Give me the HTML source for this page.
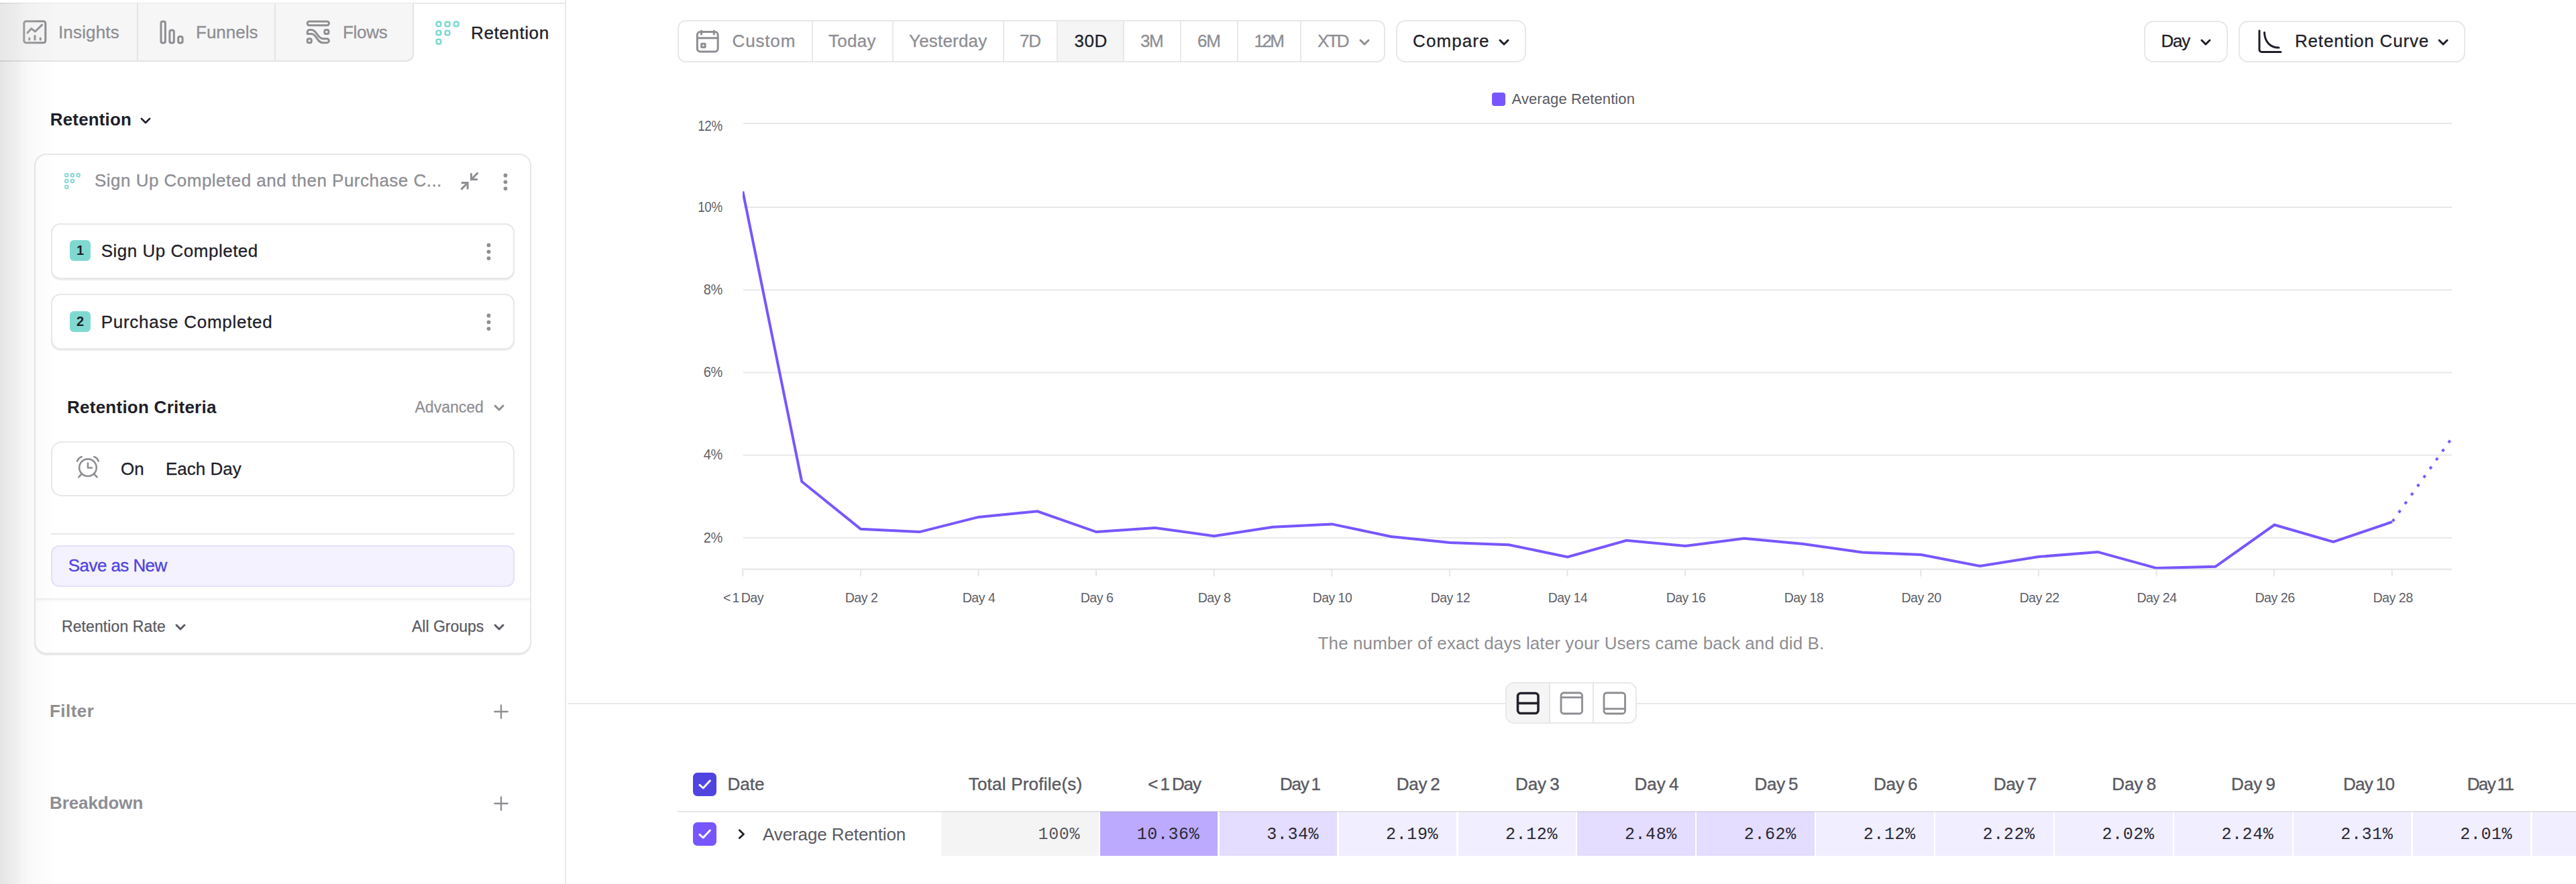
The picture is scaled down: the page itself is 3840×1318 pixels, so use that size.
<!DOCTYPE html>
<html><head><meta charset="utf-8">
<style>
*{box-sizing:border-box;margin:0;padding:0}
html,body{width:3840px;height:1318px;overflow:hidden;background:#fff}
body{font-family:"Liberation Sans",sans-serif;color:#1b1b25;position:relative}
.abs{position:absolute}
.t{position:absolute;white-space:nowrap;line-height:1}
.g{color:#8e8e93}
.d{color:#1f1f29}
.m{color:#5a5a62}
.b{font-weight:bold}
svg{position:absolute;overflow:visible}
.mono{font-family:"Liberation Mono",monospace}
</style></head><body>

<!-- ===== SIDEBAR ===== -->
<div class="abs" style="left:0;top:0;width:844.400px;height:1318px;border-right:2px solid #e8e8e8;background:#fff"></div>
<!-- top line -->
<div class="abs" style="left:0;top:4px;width:843px;height:2px;background:#e9e9e9"></div>
<!-- tabs -->
<div class="abs" style="left:0;top:5px;width:617px;height:87px;background:#f6f6f6;border-bottom:2px solid #e4e4e4;border-right:2px solid #e4e4e4;border-bottom-right-radius:12px"></div>
<div class="abs" style="left:204px;top:5px;width:2px;height:86px;background:#e4e4e4"></div>
<div class="abs" style="left:409px;top:5px;width:2px;height:86px;background:#e4e4e4"></div>

<!--SB-->
<!-- tab icons -->
<svg style="left:34px;top:29.800px" width="36" height="36" viewBox="0 0 36 36" fill="none" stroke="#8e8e93" stroke-width="3" stroke-linecap="round" stroke-linejoin="round">
<rect x="1.8" y="1.8" width="32" height="32" rx="3"/>
<polyline points="7,19 12.8,12.6 18.4,17 28.6,7.2"/>
<line x1="9.8" y1="27" x2="9.8" y2="29"/><line x1="18" y1="23.5" x2="18" y2="29"/><line x1="26.2" y1="27" x2="26.2" y2="29"/>
</svg>
<div class="t g" style="left:87px;top:34.500px;font-size:26px;letter-spacing:.15px;-webkit-text-stroke:.3px #8e8e93">Insights</div>

<svg style="left:238px;top:30px" width="37" height="36" viewBox="0 0 37 36" fill="none" stroke="#8e8e93" stroke-width="3" stroke-linejoin="round">
<rect x="2" y="1.9" width="6.4" height="32" rx="2.5"/>
<rect x="14.9" y="14.9" width="6.4" height="19" rx="2.5"/>
<rect x="27.7" y="24.5" width="6.4" height="9.4" rx="2.5"/>
</svg>
<div class="t g" style="left:292px;top:34.500px;font-size:26px;letter-spacing:0px;-webkit-text-stroke:.3px #8e8e93">Funnels</div>

<svg style="left:456.300px;top:30.400px" width="36.600" height="36.200" viewBox="0 0 36 36" fill="none" stroke="#8e8e93" stroke-width="3" stroke-linejoin="round" stroke-linecap="round">
<rect x="2" y="2" width="32" height="5.600" rx="2.600"/>
<rect x="27.5" y="14.5" width="6" height="6" rx="2"/>
<rect x="2" y="27.5" width="6" height="6" rx="2"/>
<path d="M2 20.5v-3a3 3 0 0 1 3-3h3c8 0 9 13 17 13h6a3 3 0 0 1 3 3v0a3 3 0 0 1-3 3h-6c-9 0-9-13-17-13h-6z" />
</svg>
<div class="t g" style="left:511px;top:34.500px;font-size:26px;letter-spacing:-.3px;-webkit-text-stroke:.3px #8e8e93">Flows</div>

<svg style="left:649px;top:31px" width="36" height="36" viewBox="0 0 36 36" fill="none" stroke="#80d9d1" stroke-width="2.6">
<rect x="1.6" y="1.6" width="6.6" height="6.6" rx="2.2"/><rect x="14.7" y="1.6" width="6.6" height="6.6" rx="2.2"/><rect x="27.8" y="1.6" width="6.6" height="6.6" rx="2.2"/>
<rect x="1.6" y="14.7" width="6.6" height="6.6" rx="2.2"/><rect x="14.7" y="14.7" width="6.6" height="6.6" rx="2.2"/>
<rect x="1.6" y="27.8" width="6.6" height="6.6" rx="2.2"/>
</svg>
<div class="t d" style="left:702px;top:35.500px;font-size:26px;letter-spacing:.6px;-webkit-text-stroke:.35px #1f1f29">Retention</div>

<!-- heading -->
<div class="t d b" style="left:74.800px;top:164.500px;font-size:26px;letter-spacing:.15px">Retention</div>
<svg style="left:209px;top:175px" width="16" height="10.300" viewBox="0 0 17 11" fill="none" stroke="#1f1f29" stroke-width="3" stroke-linecap="round" stroke-linejoin="round"><polyline points="2,2 8.5,8.5 15,2"/></svg>

<!-- big card -->
<div class="abs" style="left:51px;top:228.600px;width:741px;height:746.400px;border:2px solid #e8e8e8;border-radius:18px;box-shadow:0 1.500px 1px rgba(0,0,0,.085);background:#fff"></div>
<svg style="left:96px;top:258px" width="24" height="24" viewBox="0 0 36 36" fill="none" stroke="#80d9d1" stroke-width="3">
<rect x="1.6" y="1.6" width="6.6" height="6.6" rx="2.2"/><rect x="14.7" y="1.6" width="6.6" height="6.6" rx="2.2"/><rect x="27.8" y="1.6" width="6.6" height="6.6" rx="2.2"/>
<rect x="1.6" y="14.7" width="6.6" height="6.6" rx="2.2"/><rect x="14.7" y="14.7" width="6.6" height="6.6" rx="2.2"/>
<rect x="1.6" y="27.8" width="6.6" height="6.6" rx="2.2"/>
</svg>
<div class="t g" style="left:141px;top:256px;font-size:26px;letter-spacing:.48px;-webkit-text-stroke:.3px #8e8e93">Sign Up Completed and then Purchase C...</div>
<svg style="left:687px;top:257px" width="27" height="27" viewBox="0 0 27 27" fill="none" stroke="#8e8e93" stroke-width="3" stroke-linecap="round" stroke-linejoin="miter">
<path d="M24.700 1.300L15.400 10.600M15.400 2.200V10.600H23.800"/><path d="M1.300 24.600L10.100 15.500M1.800 15.500H10.100V24"/>
</svg>
<svg style="left:749.200px;top:257.600px" width="9" height="27" viewBox="0 0 9 27" fill="#8e8e93"><circle cx="4.5" cy="3.5" r="2.900"/><circle cx="4.500" cy="13.300" r="2.900"/><circle cx="4.5" cy="23.100" r="2.900"/></svg>

<!-- event 1 -->
<div class="abs" style="left:76px;top:332.500px;width:690.500px;height:83px;border:2px solid #e8e8e8;border-radius:14px;box-shadow:0 1.500px 1px rgba(0,0,0,.075);background:#fff"></div>
<div class="abs" style="left:104px;top:358px;width:31px;height:31px;border-radius:6px;background:#80d9d1"></div>
<div class="t d b" style="left:104px;top:363px;width:31px;text-align:center;font-size:20px">1</div>
<div class="t d" style="left:150.700px;top:361.400px;font-size:26px;letter-spacing:.51px;-webkit-text-stroke:.3px #1f1f29">Sign Up Completed</div>
<svg style="left:723.500px;top:361.500px" width="9" height="27" viewBox="0 0 9 27" fill="#8e8e93"><circle cx="4.5" cy="3.5" r="2.900"/><circle cx="4.500" cy="13.300" r="2.900"/><circle cx="4.5" cy="23.100" r="2.900"/></svg>
<!-- event 2 -->
<div class="abs" style="left:76px;top:437.800px;width:690.500px;height:83.400px;border:2px solid #e8e8e8;border-radius:14px;box-shadow:0 1.500px 1px rgba(0,0,0,.075);background:#fff"></div>
<div class="abs" style="left:104px;top:463.600px;width:31px;height:31px;border-radius:6px;background:#80d9d1"></div>
<div class="t d b" style="left:104px;top:468.600px;width:31px;text-align:center;font-size:20px">2</div>
<div class="t d" style="left:150.700px;top:467px;font-size:26px;letter-spacing:.72px;-webkit-text-stroke:.3px #1f1f29">Purchase Completed</div>
<svg style="left:723.500px;top:467px" width="9" height="27" viewBox="0 0 9 27" fill="#8e8e93"><circle cx="4.5" cy="3.5" r="2.900"/><circle cx="4.500" cy="13.300" r="2.900"/><circle cx="4.5" cy="23.100" r="2.900"/></svg>

<!-- criteria -->
<div class="t d b" style="left:100px;top:594px;font-size:26px;letter-spacing:.25px">Retention Criteria</div>
<div class="t g" style="left:618.500px;top:596.300px;font-size:23px;-webkit-text-stroke:.25px #8e8e93">Advanced</div>
<svg style="left:736px;top:603px" width="16" height="11" viewBox="0 0 16 11" fill="none" stroke="#8e8e93" stroke-width="3" stroke-linecap="round" stroke-linejoin="round"><polyline points="2,2 8,8 14,2"/></svg>
<div class="abs" style="left:76px;top:658px;width:691px;height:82px;border:2px solid #e8e8e8;border-radius:16px;background:#fff"></div>
<svg style="left:113px;top:679px" width="36" height="35" viewBox="0 0 36 35" fill="none" stroke="#8e8e93" stroke-width="2.6" stroke-linecap="round" stroke-linejoin="round">
<circle cx="18" cy="18.200" r="12.800"/><polyline points="18,11.500 18,18.500 24,18.500"/>
<path d="M2.200 8.500A11 11 0 0 1 8.700 2"/><path d="M33.800 8.500A11 11 0 0 0 27.300 2"/>
<line x1="8.500" y1="28" x2="4.300" y2="32.300"/><line x1="27.500" y1="28" x2="31.700" y2="32.300"/>
</svg>
<div class="t d" style="left:180px;top:686px;font-size:26px;-webkit-text-stroke:.3px #1f1f29">On</div>
<div class="t d" style="left:247px;top:686px;font-size:26px;-webkit-text-stroke:.3px #1f1f29">Each Day</div>

<div class="abs" style="left:76px;top:795px;width:691px;height:2px;background:#e8e8e8"></div>
<div class="abs" style="left:76px;top:813px;width:691px;height:62px;border:2px solid #e4e0fb;border-radius:12px;background:#f4f2fe"></div>
<div class="t" style="left:101.800px;top:830.200px;font-size:26px;color:#4f44e0;letter-spacing:-.57px;-webkit-text-stroke:.35px #4f44e0">Save as New</div>
<div class="abs" style="left:53px;top:892px;width:737px;height:2px;background:#efefef"></div>
<div class="abs" style="left:53px;top:894px;width:737px;height:3px;background:#fafafa"></div>
<div class="t m" style="left:92px;top:922.700px;font-size:23px;letter-spacing:.1px;-webkit-text-stroke:.25px #5a5a62">Retention Rate</div>
<svg style="left:261px;top:930px" width="16" height="11" viewBox="0 0 16 11" fill="none" stroke="#5a5a62" stroke-width="3" stroke-linecap="round" stroke-linejoin="round"><polyline points="2,2 8,8 14,2"/></svg>
<div class="t m" style="left:614px;top:922.700px;font-size:23px;-webkit-text-stroke:.25px #5a5a62">All Groups</div>
<svg style="left:736px;top:930px" width="16" height="11" viewBox="0 0 16 11" fill="none" stroke="#5a5a62" stroke-width="3" stroke-linecap="round" stroke-linejoin="round"><polyline points="2,2 8,8 14,2"/></svg>

<div class="t g b" style="left:74px;top:1047.300px;font-size:26px;letter-spacing:.45px">Filter</div>
<svg style="left:735.800px;top:1050px" width="22" height="22" viewBox="0 0 24 24" stroke="#8e8e93" stroke-width="2.6" stroke-linecap="round"><line x1="12" y1="1.5" x2="12" y2="22.5"/><line x1="1.5" y1="12" x2="22.500" y2="12"/></svg>
<div class="t g b" style="left:74px;top:1184.200px;font-size:26px;letter-spacing:-.1px">Breakdown</div>
<svg style="left:735.800px;top:1187px" width="22" height="22" viewBox="0 0 24 24" stroke="#8e8e93" stroke-width="2.6" stroke-linecap="round"><line x1="12" y1="1.5" x2="12" y2="22.5"/><line x1="1.5" y1="12" x2="22.500" y2="12"/></svg>
<div class="abs" style="left:0;top:0;width:90px;height:1318px;background:linear-gradient(to right,rgba(0,0,0,.106) 0,rgba(0,0,0,.086) 10px,rgba(0,0,0,.07) 20px,rgba(0,0,0,.062) 25px,rgba(0,0,0,.046) 30px,rgba(0,0,0,.027) 40px,rgba(0,0,0,.019) 50px,rgba(0,0,0,.012) 60px,rgba(0,0,0,.007) 70px,rgba(0,0,0,0) 85px)"></div>
<div class="abs" style="left:0;top:6px;width:70px;height:84px;background:linear-gradient(to right,rgba(255,255,255,.3) 0,rgba(255,255,255,.22) 25px,rgba(255,255,255,.12) 45px,rgba(255,255,255,0) 68px)"></div>
<div class="abs" style="left:0;top:0;width:70px;height:4px;background:#fff"></div>
<!--/SB-->
<!--MAIN-->
<div class="abs" style="left:1010px;top:30.400px;width:1055px;height:62.600px;border:2px solid #e8e8e8;border-radius:12px;background:#fff"></div>
<div class="abs" style="left:1577px;top:32px;width:98px;height:59px;background:#f5f5f5"></div>
<div class="abs" style="left:1209.6px;top:32px;width:2px;height:59px;background:#e9e9e9"></div>
<div class="abs" style="left:1329.5px;top:32px;width:2px;height:59px;background:#e9e9e9"></div>
<div class="abs" style="left:1494.6px;top:32px;width:2px;height:59px;background:#e9e9e9"></div>
<div class="abs" style="left:1574.6px;top:32px;width:2px;height:59px;background:#e9e9e9"></div>
<div class="abs" style="left:1674.0px;top:32px;width:2px;height:59px;background:#e9e9e9"></div>
<div class="abs" style="left:1758.8px;top:32px;width:2px;height:59px;background:#e9e9e9"></div>
<div class="abs" style="left:1843.7px;top:32px;width:2px;height:59px;background:#e9e9e9"></div>
<div class="abs" style="left:1937.6px;top:32px;width:2px;height:59px;background:#e9e9e9"></div>
<svg style="left:1037px;top:44px" width="36" height="36" viewBox="0 0 36 36" fill="none" stroke="#8e8e93" stroke-width="3" stroke-linecap="round" stroke-linejoin="round">
<rect x="2.35" y="3.4" width="30.800" height="29.600" rx="4.500"/><line x1="2.35" y1="12.800" x2="33.100" y2="12.800"/><line x1="8.500" y1="2" x2="8.500" y2="7"/><line x1="27.300" y1="2" x2="27.300" y2="7"/><rect x="8.700" y="21.300" width="5.400" height="5.200" rx=".3"/></svg>
<div class="t g" style="left:1091.5px;top:47.9px;font-size:26px;letter-spacing:.85px;-webkit-text-stroke:.3px #8e8e93;">Custom</div>
<div class="t g" style="left:1235.0px;top:47.9px;font-size:26px;letter-spacing:.3px;-webkit-text-stroke:.3px #8e8e93;">Today</div>
<div class="t g" style="left:1355.0px;top:47.9px;font-size:26px;letter-spacing:.2px;-webkit-text-stroke:.3px #8e8e93;">Yesterday</div>
<div class="t g" style="left:1520.0px;top:47.9px;font-size:26px;letter-spacing:-1.1px;-webkit-text-stroke:.3px #8e8e93;">7D</div>
<div class="t d" style="left:1601.5px;top:47.9px;font-size:26px;letter-spacing:.5px;-webkit-text-stroke:.3px #1f1f29">30D</div>
<div class="t g" style="left:1700.0px;top:47.9px;font-size:26px;letter-spacing:-1.5px;-webkit-text-stroke:.3px #8e8e93;">3M</div>
<div class="t g" style="left:1785.0px;top:47.9px;font-size:26px;letter-spacing:-1.2px;-webkit-text-stroke:.3px #8e8e93;">6M</div>
<div class="t g" style="left:1869.6px;top:47.9px;font-size:26px;letter-spacing:-2.6px;-webkit-text-stroke:.3px #8e8e93;">12M</div>
<div class="t g" style="left:1964.0px;top:47.9px;font-size:26px;letter-spacing:-2.2px;-webkit-text-stroke:.3px #8e8e93;">XTD</div>
<svg style="left:2025.5px;top:58px" width="16" height="11" viewBox="0 0 16 11" fill="none" stroke="#8e8e93" stroke-width="3" stroke-linecap="round" stroke-linejoin="round"><polyline points="2,2 8,8 14,2"/></svg>
<div class="abs" style="left:2080.500px;top:30.400px;width:194.500px;height:62.600px;border:2px solid #e8e8e8;border-radius:14px;background:#fff"></div>
<div class="t d" style="left:2106.0px;top:47.9px;font-size:26px;letter-spacing:1.1px;-webkit-text-stroke:.3px #1f1f29">Compare</div>
<svg style="left:2234px;top:58px" width="16" height="11" viewBox="0 0 16 11" fill="none" stroke="#1f1f29" stroke-width="3" stroke-linecap="round" stroke-linejoin="round"><polyline points="2,2 8,8 14,2"/></svg>
<div class="abs" style="left:3195.700px;top:30.500px;width:125.300px;height:62.500px;border:2px solid #e8e8e8;border-radius:14px;background:#fff"></div>
<div class="t d" style="left:3221.5px;top:47.9px;font-size:26px;letter-spacing:-1.2px;-webkit-text-stroke:.3px #1f1f29">Day</div>
<svg style="left:3280px;top:58px" width="16" height="11" viewBox="0 0 16 11" fill="none" stroke="#1f1f29" stroke-width="3" stroke-linecap="round" stroke-linejoin="round"><polyline points="2,2 8,8 14,2"/></svg>
<div class="abs" style="left:3336.700px;top:30.500px;width:338.300px;height:62.500px;border:2px solid #e8e8e8;border-radius:14px;background:#fff"></div>
<svg style="left:3366px;top:44px" width="36" height="36" viewBox="0 0 36 36" fill="none" stroke="#1f1f29" stroke-width="3" stroke-linecap="round" stroke-linejoin="round">
<path d="M2 1.800V30a3.500 3.500 0 0 0 3.500 3.500H34"/><path d="M9.500 4.500C10 17 17 27 31 27"/></svg>
<div class="t d" style="left:3421.0px;top:47.9px;font-size:26px;letter-spacing:.81px;-webkit-text-stroke:.3px #1f1f29">Retention Curve</div>
<svg style="left:3634px;top:58px" width="16" height="11" viewBox="0 0 16 11" fill="none" stroke="#1f1f29" stroke-width="3" stroke-linecap="round" stroke-linejoin="round"><polyline points="2,2 8,8 14,2"/></svg>
<div class="abs" style="left:2224px;top:138px;width:20px;height:20px;border-radius:4px;background:#7856ff"></div>
<div class="t m" style="left:2253.5px;top:136.7px;font-size:22px;letter-spacing:.1px">Average Retention</div>
<svg style="left:0;top:0" width="3840" height="1000" viewBox="0 0 3840 1000" fill="none">
<rect x="1107.800" y="183.0" width="2547.200" height="2" fill="#e8e8e8"/>
<rect x="1107.800" y="308.0" width="2547.200" height="2" fill="#e8e8e8"/>
<rect x="1107.800" y="431.2" width="2547.200" height="2" fill="#e8e8e8"/>
<rect x="1107.800" y="554.4" width="2547.200" height="2" fill="#e8e8e8"/>
<rect x="1107.800" y="677.6" width="2547.200" height="2" fill="#e8e8e8"/>
<rect x="1107.800" y="800.8" width="2547.200" height="2" fill="#e8e8e8"/>
<rect x="1106.300" y="847.600" width="2548.700" height="2.200" fill="#e6e6e6"/>
<rect x="1106.3" y="848" width="2" height="11.500" fill="#e6e6e6"/>
<rect x="1281.9" y="848" width="2" height="11.500" fill="#e6e6e6"/>
<rect x="1457.5" y="848" width="2" height="11.500" fill="#e6e6e6"/>
<rect x="1633.1" y="848" width="2" height="11.500" fill="#e6e6e6"/>
<rect x="1808.7" y="848" width="2" height="11.500" fill="#e6e6e6"/>
<rect x="1984.3" y="848" width="2" height="11.500" fill="#e6e6e6"/>
<rect x="2159.9" y="848" width="2" height="11.500" fill="#e6e6e6"/>
<rect x="2335.5" y="848" width="2" height="11.500" fill="#e6e6e6"/>
<rect x="2511.1" y="848" width="2" height="11.500" fill="#e6e6e6"/>
<rect x="2686.7" y="848" width="2" height="11.500" fill="#e6e6e6"/>
<rect x="2862.3" y="848" width="2" height="11.500" fill="#e6e6e6"/>
<rect x="3037.9" y="848" width="2" height="11.500" fill="#e6e6e6"/>
<rect x="3213.5" y="848" width="2" height="11.500" fill="#e6e6e6"/>
<rect x="3389.1" y="848" width="2" height="11.500" fill="#e6e6e6"/>
<rect x="3564.7" y="848" width="2" height="11.500" fill="#e6e6e6"/>
<clipPath id="pc"><rect x="1107" y="170" width="2548" height="678.500"/></clipPath>
<polyline clip-path="url(#pc)" points="1107.3,285.5 1195.2,718.0 1283.0,788.8 1370.8,793.1 1458.6,770.9 1546.4,762.3 1634.2,793.1 1722.0,786.9 1809.8,799.3 1897.6,785.7 1985.4,781.4 2073.3,799.9 2161.1,808.9 2248.9,812.2 2336.7,830.4 2424.5,805.8 2512.3,813.9 2600.1,802.8 2687.9,810.9 2775.7,823.6 2863.6,827.1 2951.4,843.9 3039.2,830.1 3127.0,822.9 3214.8,847.1 3302.6,844.7 3390.4,782.5 3478.2,807.8 3566.0,778.1" stroke="#7856ff" stroke-width="4" stroke-linejoin="miter" stroke-linecap="butt"/>
<line clip-path="url(#pc)" x1="3566.5" y1="777.4" x2="3653.8" y2="654.7" stroke="#7856ff" stroke-width="4" stroke-dasharray="4.200 11.800"/>
</svg>
<div class="t m" style="left:876.900px;width:200px;text-align:right;top:177.7px;font-size:21.5px;letter-spacing:-.3px;color:#5f5f67;transform:scaleX(0.875);transform-origin:right center">12%</div>
<div class="t m" style="left:876.900px;width:200px;text-align:right;top:298.8px;font-size:21.5px;letter-spacing:-.3px;color:#5f5f67;transform:scaleX(0.875);transform-origin:right center">10%</div>
<div class="t m" style="left:876.900px;width:200px;text-align:right;top:422.0px;font-size:21.5px;letter-spacing:-.3px;color:#5f5f67;transform:scaleX(0.93);transform-origin:right center">8%</div>
<div class="t m" style="left:876.900px;width:200px;text-align:right;top:545.2px;font-size:21.5px;letter-spacing:-.3px;color:#5f5f67;transform:scaleX(0.93);transform-origin:right center">6%</div>
<div class="t m" style="left:876.900px;width:200px;text-align:right;top:668.4px;font-size:21.5px;letter-spacing:-.3px;color:#5f5f67;transform:scaleX(0.93);transform-origin:right center">4%</div>
<div class="t m" style="left:876.900px;width:200px;text-align:right;top:791.6px;font-size:21.5px;letter-spacing:-.3px;color:#5f5f67;transform:scaleX(0.93);transform-origin:right center">2%</div>
<div class="t m" style="left:1007.9px;width:200px;text-align:center;top:881.0px;font-size:20.5px;letter-spacing:-.55px;color:#5e5e66;transform:scaleX(0.958);word-spacing:-2.300px;">&lt; 1 Day</div>
<div class="t m" style="left:1183.6px;width:200px;text-align:center;top:881.0px;font-size:20.5px;letter-spacing:-.55px;color:#5e5e66;transform:scaleX(0.958);">Day 2</div>
<div class="t m" style="left:1359.2px;width:200px;text-align:center;top:881.0px;font-size:20.5px;letter-spacing:-.55px;color:#5e5e66;transform:scaleX(0.958);">Day 4</div>
<div class="t m" style="left:1534.8px;width:200px;text-align:center;top:881.0px;font-size:20.5px;letter-spacing:-.55px;color:#5e5e66;transform:scaleX(0.958);">Day 6</div>
<div class="t m" style="left:1710.4px;width:200px;text-align:center;top:881.0px;font-size:20.5px;letter-spacing:-.55px;color:#5e5e66;transform:scaleX(0.958);">Day 8</div>
<div class="t m" style="left:1886.0px;width:200px;text-align:center;top:881.0px;font-size:20.5px;letter-spacing:-.55px;color:#5e5e66;transform:scaleX(0.945);">Day 10</div>
<div class="t m" style="left:2061.7px;width:200px;text-align:center;top:881.0px;font-size:20.5px;letter-spacing:-.55px;color:#5e5e66;transform:scaleX(0.945);">Day 12</div>
<div class="t m" style="left:2237.3px;width:200px;text-align:center;top:881.0px;font-size:20.5px;letter-spacing:-.55px;color:#5e5e66;transform:scaleX(0.945);">Day 14</div>
<div class="t m" style="left:2412.9px;width:200px;text-align:center;top:881.0px;font-size:20.5px;letter-spacing:-.55px;color:#5e5e66;transform:scaleX(0.945);">Day 16</div>
<div class="t m" style="left:2588.5px;width:200px;text-align:center;top:881.0px;font-size:20.5px;letter-spacing:-.55px;color:#5e5e66;transform:scaleX(0.945);">Day 18</div>
<div class="t m" style="left:2764.2px;width:200px;text-align:center;top:881.0px;font-size:20.5px;letter-spacing:-.55px;color:#5e5e66;transform:scaleX(0.958);">Day 20</div>
<div class="t m" style="left:2939.8px;width:200px;text-align:center;top:881.0px;font-size:20.5px;letter-spacing:-.55px;color:#5e5e66;transform:scaleX(0.958);">Day 22</div>
<div class="t m" style="left:3115.4px;width:200px;text-align:center;top:881.0px;font-size:20.5px;letter-spacing:-.55px;color:#5e5e66;transform:scaleX(0.958);">Day 24</div>
<div class="t m" style="left:3291.0px;width:200px;text-align:center;top:881.0px;font-size:20.5px;letter-spacing:-.55px;color:#5e5e66;transform:scaleX(0.958);">Day 26</div>
<div class="t m" style="left:3466.6px;width:200px;text-align:center;top:881.0px;font-size:20.5px;letter-spacing:-.55px;color:#5e5e66;transform:scaleX(0.958);">Day 28</div>
<div class="t g" style="left:1842px;width:1000px;text-align:center;top:946.1px;font-size:26px;letter-spacing:.1px">The number of exact days later your Users came back and did B.</div>
<div class="abs" style="left:846px;top:1048px;width:2994px;height:2px;background:#e9e9e9"></div>
<div class="abs" style="left:2244px;top:1017px;width:196px;height:62px;border:2px solid #e8e8e8;border-radius:13px;background:#fff;overflow:hidden"><div style="position:absolute;left:0;top:0;width:64px;height:58px;background:#f5f5f5"></div><div style="position:absolute;left:63.200px;top:0;width:2px;height:58px;background:#e6e6e6"></div><div style="position:absolute;left:127.800px;top:0;width:2px;height:58px;background:#e6e6e6"></div></div>
<svg style="left:2260px;top:1031px" width="36" height="35" viewBox="0 0 36 35" fill="none" stroke="#23232c" stroke-width="3.6" stroke-linejoin="round"><rect x="2.5" y="2.5" width="30.500" height="30" rx="4.500"/><line x1="2.5" y1="17.500" x2="33" y2="17.500"/></svg>
<svg style="left:2324.500px;top:1031px" width="36" height="35" viewBox="0 0 36 35" fill="none" stroke="#8e8e93" stroke-width="2.8" stroke-linejoin="round"><rect x="2" y="2" width="31.500" height="31" rx="4"/><line x1="2" y1="8.800" x2="33.500" y2="8.800"/></svg>
<svg style="left:2389px;top:1031px" width="36" height="35" viewBox="0 0 36 35" fill="none" stroke="#8e8e93" stroke-width="2.8" stroke-linejoin="round"><rect x="2" y="2" width="31.500" height="31" rx="4"/><line x1="2" y1="25.800" x2="33.500" y2="25.800"/></svg>
<div class="abs" style="left:1033.1px;top:1151.5px;width:35.400px;height:35.200px;border-radius:6.500px;background:#4f44e0"></div>
<svg style="left:1033px;top:1151.5px" width="35" height="35" viewBox="0 0 35 35" fill="none" stroke="#fff" stroke-width="3" stroke-linecap="round" stroke-linejoin="round"><polyline points="10,18.300 15.200,23 25.400,12"/></svg>
<div class="abs" style="left:1033.1px;top:1226px;width:35.400px;height:35.200px;border-radius:6.500px;background:#7856ff"></div>
<svg style="left:1033px;top:1226px" width="35" height="35" viewBox="0 0 35 35" fill="none" stroke="#fff" stroke-width="3" stroke-linecap="round" stroke-linejoin="round"><polyline points="10,18.300 15.200,23 25.400,12"/></svg>
<div class="t m" style="left:1084.5px;top:1156.4px;font-size:26px;-webkit-text-stroke:.4px #5a5a62">Date</div>
<div class="abs" style="left:1010px;top:1209.400px;width:2830px;height:1.900px;background:#e6e6e6"></div>
<div class="abs" style="left:1403px;top:1209.500px;width:234.700px;height:66.100px;background:rgba(0,0,0,.045)"></div>
<div class="t m" style="left:1213.4px;width:400px;text-align:right;top:1156.4px;font-size:26px;letter-spacing:.22px;-webkit-text-stroke:.4px #5a5a62">Total Profile(s)</div>
<div class="abs" style="left:1639.8px;top:1209.500px;width:175.700px;height:66.100px;background:rgba(120,86,255,.5)"></div>
<div class="t m" style="left:1389.9px;width:400px;text-align:right;top:1156.4px;font-size:26px;letter-spacing:-1.10px;word-spacing:-2px;-webkit-text-stroke:.4px #5a5a62">&lt; 1 Day</div>
<div class="t mono" style="left:1488.3px;width:300px;text-align:right;top:1232.0px;font-size:25px;letter-spacing:.6px;color:#2a2a33">10.36%</div>
<div class="abs" style="left:1817.7px;top:1209.500px;width:175.700px;height:66.100px;background:rgba(120,86,255,.2)"></div>
<div class="t m" style="left:1567.6px;width:400px;text-align:right;top:1156.4px;font-size:26px;letter-spacing:-1.28px;word-spacing:-2px;-webkit-text-stroke:.4px #5a5a62">Day 1</div>
<div class="t mono" style="left:1666.2px;width:300px;text-align:right;top:1232.0px;font-size:25px;letter-spacing:.6px;color:#2a2a33">3.34%</div>
<div class="abs" style="left:1995.6px;top:1209.500px;width:175.700px;height:66.100px;background:rgba(120,86,255,.1)"></div>
<div class="t m" style="left:1746.6px;width:400px;text-align:right;top:1156.4px;font-size:26px;letter-spacing:-0.23px;word-spacing:-2px;-webkit-text-stroke:.4px #5a5a62">Day 2</div>
<div class="t mono" style="left:1844.1px;width:300px;text-align:right;top:1232.0px;font-size:25px;letter-spacing:.6px;color:#2a2a33">2.19%</div>
<div class="abs" style="left:2173.5px;top:1209.500px;width:175.700px;height:66.100px;background:rgba(120,86,255,.1)"></div>
<div class="t m" style="left:1924.6px;width:400px;text-align:right;top:1156.4px;font-size:26px;letter-spacing:-0.05px;word-spacing:-2px;-webkit-text-stroke:.4px #5a5a62">Day 3</div>
<div class="t mono" style="left:2022.0px;width:300px;text-align:right;top:1232.0px;font-size:25px;letter-spacing:.6px;color:#2a2a33">2.12%</div>
<div class="abs" style="left:2351.4px;top:1209.500px;width:175.700px;height:66.100px;background:rgba(120,86,255,.2)"></div>
<div class="t m" style="left:2102.6px;width:400px;text-align:right;top:1156.4px;font-size:26px;letter-spacing:0.02px;word-spacing:-2px;-webkit-text-stroke:.4px #5a5a62">Day 4</div>
<div class="t mono" style="left:2199.9px;width:300px;text-align:right;top:1232.0px;font-size:25px;letter-spacing:.6px;color:#2a2a33">2.48%</div>
<div class="abs" style="left:2529.3px;top:1209.500px;width:175.700px;height:66.100px;background:rgba(120,86,255,.2)"></div>
<div class="t m" style="left:2280.3px;width:400px;text-align:right;top:1156.4px;font-size:26px;letter-spacing:-0.23px;word-spacing:-2px;-webkit-text-stroke:.4px #5a5a62">Day 5</div>
<div class="t mono" style="left:2377.8px;width:300px;text-align:right;top:1232.0px;font-size:25px;letter-spacing:.6px;color:#2a2a33">2.62%</div>
<div class="abs" style="left:2707.2px;top:1209.500px;width:175.700px;height:66.100px;background:rgba(120,86,255,.1)"></div>
<div class="t m" style="left:2458.3px;width:400px;text-align:right;top:1156.4px;font-size:26px;letter-spacing:-0.10px;word-spacing:-2px;-webkit-text-stroke:.4px #5a5a62">Day 6</div>
<div class="t mono" style="left:2555.7px;width:300px;text-align:right;top:1232.0px;font-size:25px;letter-spacing:.6px;color:#2a2a33">2.12%</div>
<div class="abs" style="left:2885.1px;top:1209.500px;width:175.700px;height:66.100px;background:rgba(120,86,255,.1)"></div>
<div class="t m" style="left:2635.9px;width:400px;text-align:right;top:1156.4px;font-size:26px;letter-spacing:-0.35px;word-spacing:-2px;-webkit-text-stroke:.4px #5a5a62">Day 7</div>
<div class="t mono" style="left:2733.6px;width:300px;text-align:right;top:1232.0px;font-size:25px;letter-spacing:.6px;color:#2a2a33">2.22%</div>
<div class="abs" style="left:3063.0px;top:1209.500px;width:175.700px;height:66.100px;background:rgba(120,86,255,.1)"></div>
<div class="t m" style="left:2814.2px;width:400px;text-align:right;top:1156.4px;font-size:26px;letter-spacing:0.02px;word-spacing:-2px;-webkit-text-stroke:.4px #5a5a62">Day 8</div>
<div class="t mono" style="left:2911.5px;width:300px;text-align:right;top:1232.0px;font-size:25px;letter-spacing:.6px;color:#2a2a33">2.02%</div>
<div class="abs" style="left:3240.9px;top:1209.500px;width:175.700px;height:66.100px;background:rgba(120,86,255,.1)"></div>
<div class="t m" style="left:2992.1px;width:400px;text-align:right;top:1156.4px;font-size:26px;letter-spacing:0.02px;word-spacing:-2px;-webkit-text-stroke:.4px #5a5a62">Day 9</div>
<div class="t mono" style="left:3089.4px;width:300px;text-align:right;top:1232.0px;font-size:25px;letter-spacing:.6px;color:#2a2a33">2.24%</div>
<div class="abs" style="left:3418.8px;top:1209.500px;width:175.700px;height:66.100px;background:rgba(120,86,255,.1)"></div>
<div class="t m" style="left:3169.3px;width:400px;text-align:right;top:1156.4px;font-size:26px;letter-spacing:-0.66px;word-spacing:-2px;-webkit-text-stroke:.4px #5a5a62">Day 10</div>
<div class="t mono" style="left:3267.3px;width:300px;text-align:right;top:1232.0px;font-size:25px;letter-spacing:.6px;color:#2a2a33">2.31%</div>
<div class="abs" style="left:3596.7px;top:1209.500px;width:175.700px;height:66.100px;background:rgba(120,86,255,.1)"></div>
<div class="t m" style="left:3346.3px;width:400px;text-align:right;top:1156.4px;font-size:26px;letter-spacing:-1.64px;word-spacing:-2px;-webkit-text-stroke:.4px #5a5a62">Day 11</div>
<div class="t mono" style="left:3445.2px;width:300px;text-align:right;top:1232.0px;font-size:25px;letter-spacing:.6px;color:#2a2a33">2.01%</div>
<div class="abs" style="left:3774.6px;top:1209.500px;width:175.700px;height:66.100px;background:rgba(120,86,255,.1)"></div>
<div class="t m" style="left:3524.9px;width:400px;text-align:right;top:1156.4px;font-size:26px;letter-spacing:-0.90px;word-spacing:-2px;-webkit-text-stroke:.4px #5a5a62">Day 12</div>
<div class="t mono" style="left:3623.1px;width:300px;text-align:right;top:1232.0px;font-size:25px;letter-spacing:.6px;color:#2a2a33">1.88%</div>
<div class="t mono" style="left:1310px;width:300px;text-align:right;top:1232.0px;font-size:25px;letter-spacing:.6px;color:#55555c">100%</div>
<svg style="left:1099.500px;top:1235.700px" width="11.700" height="15.300" viewBox="0 0 13 17" fill="none" stroke="#1f1f29" stroke-width="3" stroke-linecap="round" stroke-linejoin="round"><polyline points="2.500,2 9.500,8.500 2.500,15"/></svg>
<div class="t m" style="left:1137.0px;top:1230.8px;font-size:26px;letter-spacing:-.1px">Average Retention</div>
<!--/MAIN-->

</body></html>
